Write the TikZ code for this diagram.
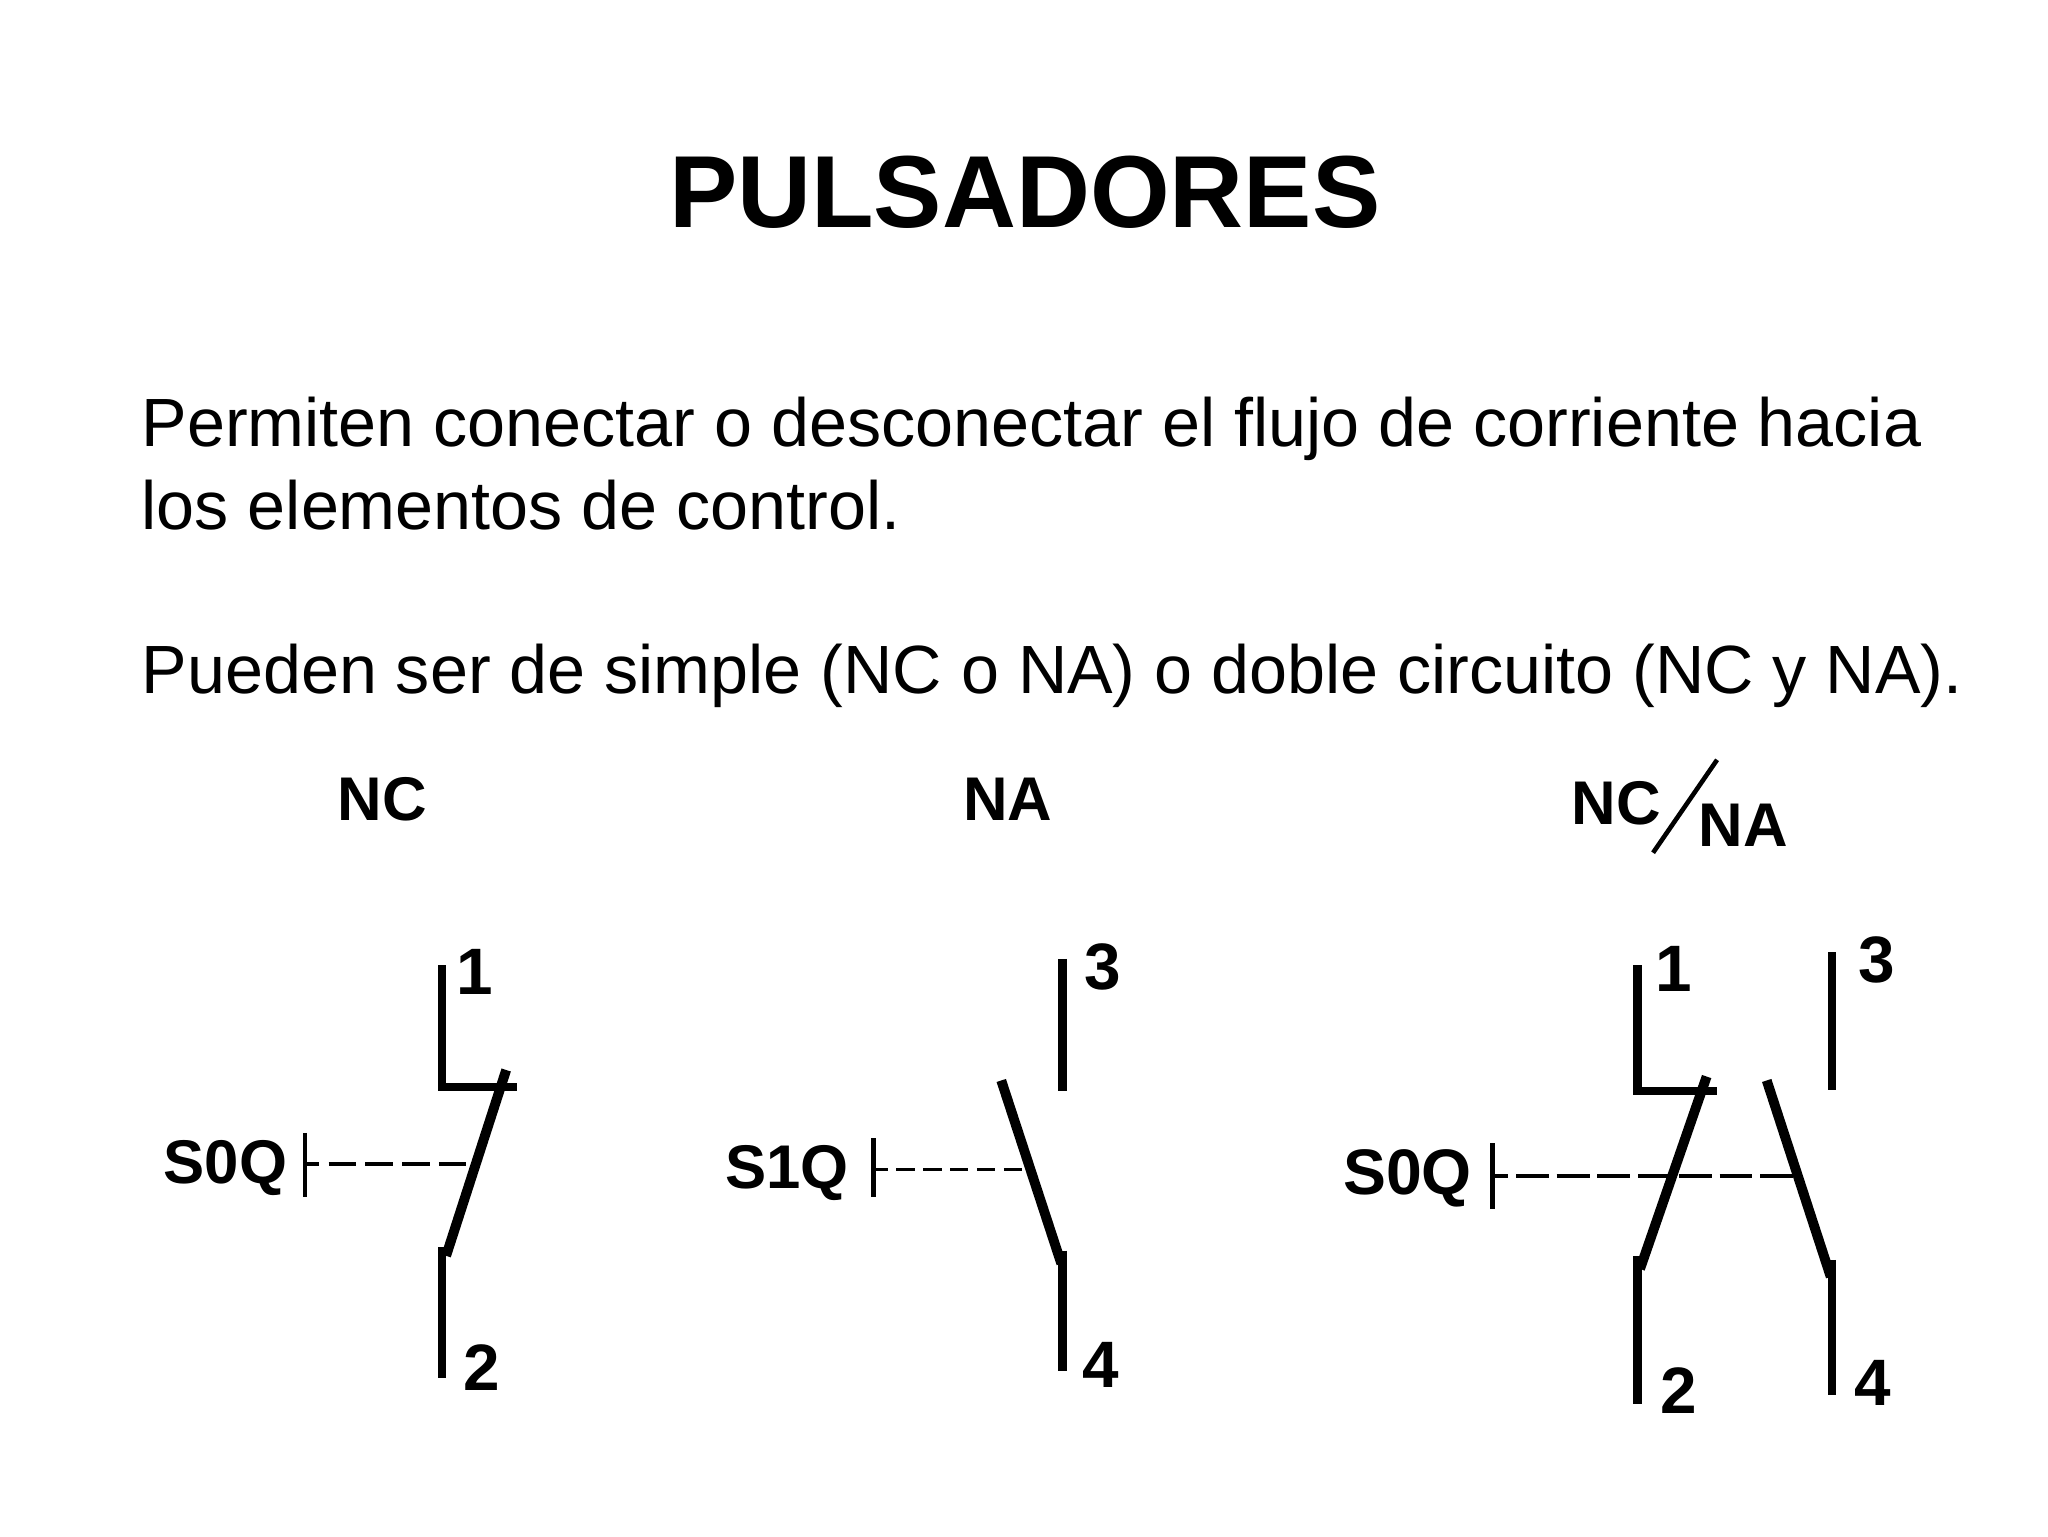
\documentclass[tikz,border=0pt]{standalone}
\usepackage{fontspec}
\setmainfont{Liberation Sans}
\newcommand{\fs}[1]{\fontsize{#1}{#1}\selectfont}
\tikzset{
  txt/.style={inner sep=0pt,outer sep=0pt,anchor=base west},
  lab/.style={inner sep=0pt,outer sep=0pt,font=\fs{47}\bfseries,text=black},
  labbig/.style={inner sep=0pt,outer sep=0pt,font=\fs{49}\bfseries,text=black},
  num/.style={inner sep=0pt,outer sep=0pt,font=\fs{50}\bfseries,text=black},
  wire/.style={line width=6.5pt,line cap=butt,line join=miter,black},
  blade/.style={line width=7.5pt,line cap=butt,black},
  tick/.style={line width=3.5pt,black},
  link/.style={line width=3pt,black},
  thin slash/.style={line width=3.5pt,black}
}
\begin{document}
\begin{tikzpicture}[x=0.995pt,y=-0.997pt,shift={(0.5pt,2.5pt)}]
\useasboundingbox (-0.5pt,-2.5pt) rectangle (1559.5pt,-1172.5pt);
\fill[white] (-0.5pt,-2.5pt) rectangle (1559.5pt,-1172.5pt);
\node[txt,anchor=base] (title) at (784,176) {\fs{78}\bfseries PULSADORES};
\node[txt] (l1) at (108,344) {\fs{52}Permiten conectar o desconectar el flujo de corriente hacia};
\node[txt] (l2) at (108,407) {\fs{52}los elementos de control.};
\node[txt] (l3) at (108,532) {\fs{52}Pueden ser de simple (NC o NA) o doble circuito (NC y NA).};
% NC
\node[lab] (hNC) at (292,613) {NC};
\node[lab] (s0a) at (172,895) {S0Q};
\node[num] (n1a) at (363,745) {1};
\node[num] (n2a) at (368,1047) {2};
\coordinate (a1) at (338,740); \coordinate (a2) at (338,833); \coordinate (a3) at (395,833);
\coordinate (a4) at (387,820); \coordinate (a5) at (341,962);
\coordinate (a6) at (338,955); \coordinate (a7) at (338,1055);
\coordinate (a8) at (233,868); \coordinate (a9) at (233,917);
\coordinate (a10) at (233,892); \coordinate (a11) at (358,892);
\draw[wire] (a1) -- (a2) -- (a3);
\draw[blade] (a4) -- (a5);
\draw[wire] (a6) -- (a7);
\draw[tick] (a8) -- (a9);
\draw[link,dash pattern=on 21pt off 7pt,dash phase=10pt] (a10) -- (a11);
% NA
\node[lab] (hNA) at (771,613) {NA};
\node[lab] (s1) at (602,899) {S1Q};
\node[num] (n3b) at (844,741) {3};
\node[num] (n4b) at (842,1045) {4};
\coordinate (b1) at (813,735); \coordinate (b2) at (813,836);
\coordinate (b3) at (766,828); \coordinate (b4) at (812,968);
\coordinate (b5) at (813,958); \coordinate (b6) at (813,1050);
\coordinate (b7) at (668,872); \coordinate (b8) at (668,917);
\coordinate (b9) at (668,896); \coordinate (b10) at (788,896);
\draw[wire] (b1) -- (b2);
\draw[blade] (b3) -- (b4);
\draw[wire] (b5) -- (b6);
\draw[tick] (b7) -- (b8);
\draw[link,dash pattern=on 14pt off 6.5pt,dash phase=3pt] (b9) -- (b10);
% NC/NA
\node[lab] (hNC2) at (1237,616) {NC};
\node[lab] (hNA2) at (1334,633) {NA};
\coordinate (s1a) at (1265,654); \coordinate (s1b) at (1314,583);
\draw[thin slash] (s1a) -- (s1b);
\node[labbig] (s0c) at (1077,903) {S0Q};
\node[num] (n1c) at (1281,743) {1};
\node[num] (n3c) at (1436,736) {3};
\node[num] (n2c) at (1285,1065) {2};
\node[num] (n4c) at (1433,1059) {4};
\coordinate (c1) at (1253,740); \coordinate (c2) at (1253,836); \coordinate (c3) at (1314,836);
\coordinate (c4) at (1306,825); \coordinate (c5) at (1255,972);
\coordinate (c6) at (1253,962); \coordinate (c7) at (1253,1075);
\coordinate (c8) at (1402,730); \coordinate (c9) at (1402,835);
\coordinate (c10) at (1352,828); \coordinate (c11) at (1401,978);
\coordinate (c12) at (1402,965); \coordinate (c13) at (1402,1068);
\coordinate (c14) at (1142,876); \coordinate (c15) at (1142,926);
\coordinate (c16) at (1142,901); \coordinate (c17) at (1378,901);
\draw[wire] (c1) -- (c2) -- (c3);
\draw[blade] (c4) -- (c5);
\draw[wire] (c6) -- (c7);
\draw[wire] (c8) -- (c9);
\draw[blade] (c10) -- (c11);
\draw[wire] (c12) -- (c13);
\draw[tick] (c14) -- (c15);
\draw[link,dash pattern=on 25pt off 6pt,dash phase=13pt] (c16) -- (c17);
\end{tikzpicture}
\end{document}
